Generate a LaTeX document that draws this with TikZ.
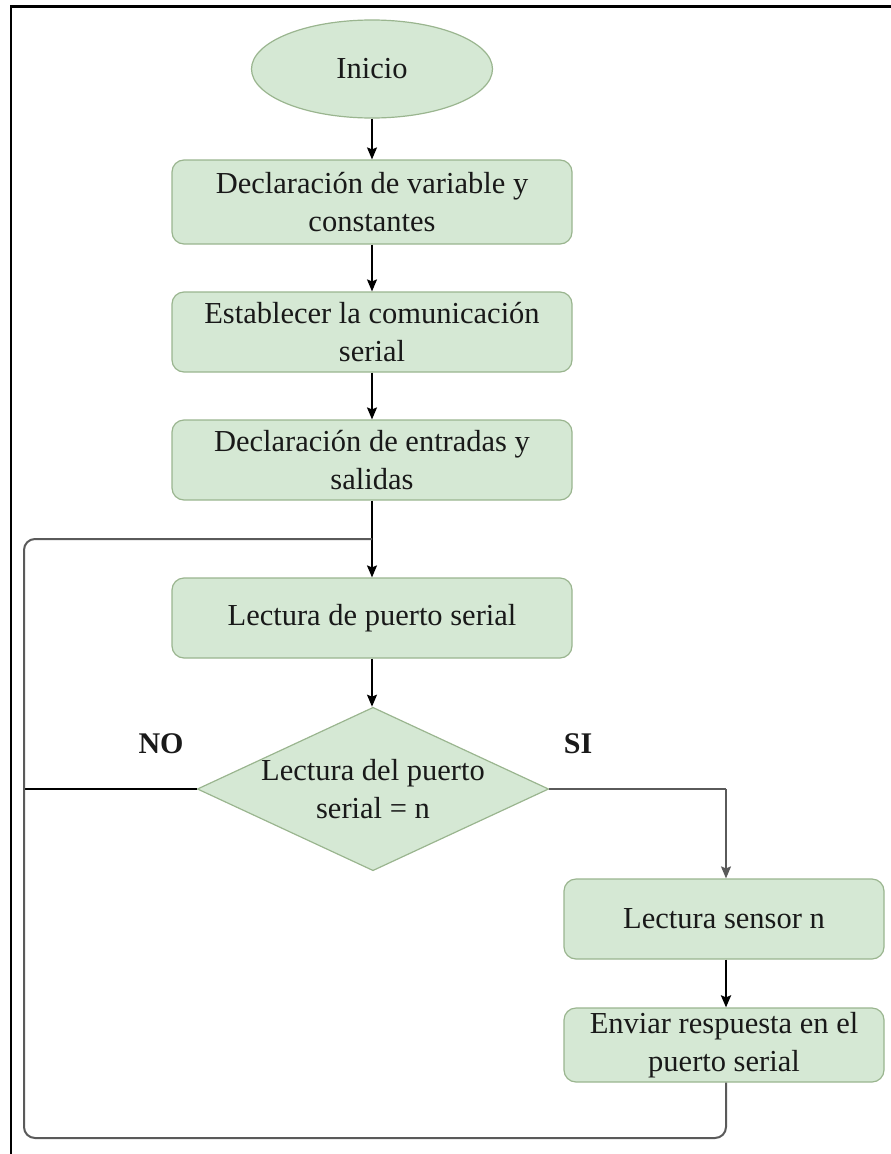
\documentclass[tikz,border=0pt]{standalone}
\usepackage{fontspec}
\setmainfont{Liberation Serif}
\usetikzlibrary{shapes.geometric,arrows.meta}
\definecolor{boxfill}{HTML}{D5E8D4}
\definecolor{boxline}{HTML}{9AB58F}
\definecolor{loopgray}{HTML}{5A5A5A}
\begin{document}
\begin{tikzpicture}[x=1pt,y=-1pt,
  every node/.style={font=\fontsize{30.5}{38}\selectfont, text=black!90},
  procbox/.style={draw=boxline, fill=boxfill, line width=1.2pt, rounded corners=12pt,
    minimum width=400pt, align=center, inner sep=0pt},
  termbox/.style={draw=boxline, fill=boxfill, line width=1.2pt, ellipse,
    minimum width=241pt, minimum height=98pt, inner sep=0pt},
  decbox/.style={draw=boxline, fill=boxfill, line width=1.2pt, diamond, aspect=2.15,
    minimum width=344pt, minimum height=158pt, inner sep=0pt, align=center},
  flow/.style={draw=black, line width=1.5pt, -{Stealth[length=12pt,width=10pt,inset=2pt]}},
  loopline/.style={draw=loopgray, line width=2pt, rounded corners=11pt},
  branch/.style={font=\fontsize{30}{38}\bfseries\selectfont}
]
\useasboundingbox (0,0) rectangle (891,1154);

% outer frame (top and left edges only)
\draw[line width=2.2pt] (11,1154) -- (11,6.5) -- (891,6.5);

% nodes
\node[termbox] (inicio) at (372,69) {Inicio};
\node[procbox, minimum height=84pt] (decl) at (372,202) {Declaración de variable y\\constantes};
\node[procbox, minimum height=80pt] (serial) at (372,332) {Establecer la comunicación\\serial};
\node[procbox, minimum height=80pt] (io) at (372,460) {Declaración de entradas y\\salidas};
\node[procbox, minimum height=80pt] (lect) at (372,618) {Lectura de puerto serial};
\node[decbox] (dec) at (373,789) {Lectura del puerto\\serial = n};
\node[procbox, minimum width=320pt, minimum height=80pt] (sensor) at (724,919) {Lectura sensor n};
\node[procbox, minimum width=320pt, minimum height=74pt] (send) at (724,1045) {Enviar respuesta en el\\puerto serial};

% branch labels
\node[branch] (nolbl) at (161,744) {NO};
\node[branch] (silbl) at (578,744) {SI};

% helper points for the return loop
\coordinate (join) at (372,539);
\coordinate (loopL) at (24,790);
\coordinate (siR) at (726,790);

% main flow
\draw[flow] (inicio) -- (decl);
\draw[flow] (decl) -- (serial);
\draw[flow] (serial) -- (io);
\draw[flow] (io) -- (lect);
\draw[flow] (lect.south) -- (lect.south |- dec.north);
\draw[draw=loopgray, line width=2pt] (dec.east) -- (dec.east -| siR);
\draw[flow, draw=loopgray] (dec.east -| siR) -- (sensor.north -| siR);
\draw[flow, line width=2.5pt] (sensor.south -| siR) -- (send.north -| siR);

% NO branch joins the return line
\draw[draw=black, line width=1.5pt] (dec.west) -- (dec.west -| loopL);

% return loop back above the serial read
\draw[loopline] (send.south -| siR) -- (726,1138) -- (24,1138) -- (24,539) -- (join);
\end{tikzpicture}
\end{document}
